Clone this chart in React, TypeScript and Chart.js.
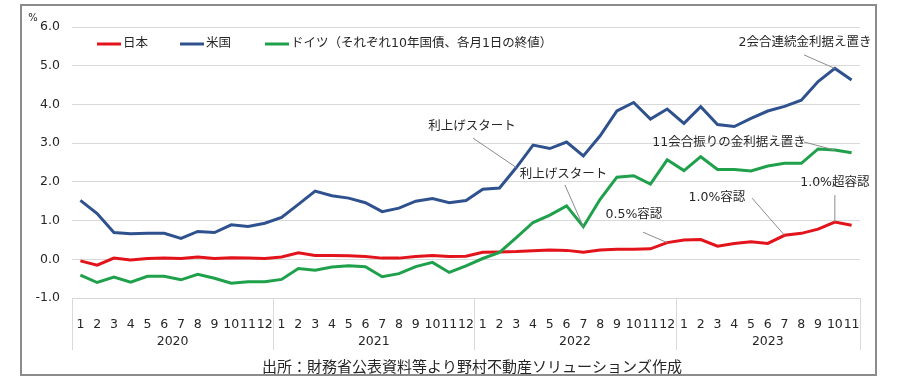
import React, { useEffect, useRef } from "react";
import { Chart, registerables } from "chart.js";

Chart.register(...registerables);

// ---- data ----
const years = ["2020", "2021", "2022", "2023"];
const monthLabels = [
  "1", "2", "3", "4", "5", "6", "7", "8", "9", "10", "11", "12",
  "1", "2", "3", "4", "5", "6", "7", "8", "9", "10", "11", "12",
  "1", "2", "3", "4", "5", "6", "7", "8", "9", "10", "11", "12",
  "1", "2", "3", "4", "5", "6", "7", "8", "9", "10", "11",
];
const japan = [
  -0.04, -0.15, 0.03, -0.02, 0.02, 0.03, 0.02, 0.06, 0.02, 0.04, 0.03, 0.02,
  0.06, 0.17, 0.1, 0.1, 0.09, 0.07, 0.03, 0.03, 0.07, 0.1, 0.07, 0.08,
  0.18, 0.19, 0.2, 0.22, 0.24, 0.23, 0.18, 0.24, 0.26, 0.26, 0.27, 0.43,
  0.5, 0.51, 0.34, 0.41, 0.45, 0.41, 0.62, 0.67, 0.78, 0.96, 0.88,
];
const usa = [
  1.52, 1.18, 0.69, 0.66, 0.67, 0.67, 0.54, 0.72, 0.69, 0.89, 0.85, 0.93,
  1.08, 1.42, 1.76, 1.64, 1.58, 1.46, 1.23, 1.32, 1.5, 1.57, 1.46, 1.52,
  1.81, 1.84, 2.37, 2.95, 2.86, 3.03, 2.67, 3.19, 3.83, 4.05, 3.62, 3.88,
  3.51, 3.94, 3.48, 3.43, 3.64, 3.83, 3.95, 4.11, 4.59, 4.93, 4.63,
];
const germany = [
  -0.41, -0.6, -0.46, -0.59, -0.44, -0.44, -0.53, -0.39, -0.49, -0.62, -0.58, -0.58,
  -0.52, -0.24, -0.28, -0.2, -0.17, -0.19, -0.45, -0.37, -0.19, -0.08, -0.34, -0.17,
  0.02, 0.18, 0.56, 0.95, 1.14, 1.38, 0.84, 1.55, 2.12, 2.16, 1.94, 2.57,
  2.29, 2.65, 2.32, 2.32, 2.28, 2.41, 2.48, 2.48, 2.85, 2.82, 2.75,
];
const seriesNames = ["日本", "米国", "ドイツ（それぞれ10年国債、各月1日の終値）"];
const sourceText = "出所：財務省公表資料等より野村不動産ソリューションズ作成";

// callouts: text, the series / month index pointed at
const callouts = [
  { text: "2会合連続金利据え置き", series: 1, index: 45 },
  { text: "利上げスタート", series: 1, index: 26 },
  { text: "利上げスタート", series: 2, index: 30 },
  { text: "0.5%容認", series: 0, index: 35 },
  { text: "1.0%容認", series: 0, index: 42 },
  { text: "1.0%超容認", series: 0, index: 45 },
  { text: "11会合振りの金利据え置き", series: 2, index: 45 },
];
// label placement in axis units (category index, value) – kept apart from data
const calloutPlacement = [
  { tx: 43.22, ty: 5.59, lx: 43.16, ly: 5.28 },
  { tx: 23.36, ty: 3.42, lx: 23.42, ly: 3.13 },
  { tx: 28.82, ty: 2.18, lx: 28.9, ly: 1.92 },
  { tx: 33.02, ty: 1.14, lx: 33.55, ly: 0.7 },
  { tx: 37.97, ty: 1.58, lx: 40.06, ly: 1.58 },
  { tx: 45.0, ty: 1.97, lx: 45.0, ly: 1.66 },
  { tx: 38.69, ty: 3.0, lx: 43.16, ly: 3.03 },
];

const COLORS = ["#e3131b", "#2f528f", "#1fa04b"];
const FONT = '"DejaVu Sans", "Noto Sans CJK JP", sans-serif';
const JFONT = '"Noto Sans CJK JP", "DejaVu Sans", sans-serif';
const TEXT = "#262626";

const overlay = {
  id: "overlay",
  afterDraw(chart: any) {
    const ctx = chart.ctx as CanvasRenderingContext2D;
    const x = chart.scales.x;
    const y = chart.scales.y;
    const area = chart.chartArea;
    const seriesData = [japan, usa, germany];
    ctx.save();

    // year separators and labels
    ctx.strokeStyle = "#d9d9d9";
    ctx.lineWidth = 1;
    for (let k = 0; k <= years.length; k++) {
      const idx = Math.min(k * 12, monthLabels.length) - 0.5;
      const px = Math.round(x.getPixelForValue(idx)) + 0.5;
      ctx.beginPath();
      ctx.moveTo(px, area.bottom);
      ctx.lineTo(px, 350);
      ctx.stroke();
    }
    ctx.fillStyle = TEXT;
    ctx.font = "12.5px " + FONT;
    ctx.textAlign = "center";
    ctx.textBaseline = "middle";
    years.forEach((yr, k) => {
      const a = x.getPixelForValue(k * 12 - 0.5);
      const b = x.getPixelForValue(Math.min((k + 1) * 12, monthLabels.length) - 0.5);
      ctx.fillText(yr, (a + b) / 2, 342);
    });

    // % unit
    ctx.font = "10px " + FONT;
    ctx.fillText("%", 33, 18);

    // legend
    const legendX = [97, 180, 265];
    ctx.font = "12.5px " + FONT;
    ctx.textAlign = "left";
    seriesNames.forEach((n, i) => {
      ctx.strokeStyle = COLORS[i];
      ctx.lineWidth = 3;
      ctx.beginPath();
      ctx.moveTo(legendX[i], 44);
      ctx.lineTo(legendX[i] + 24, 44);
      ctx.stroke();
      ctx.fillStyle = TEXT;
      ctx.fillText(n, legendX[i] + 26, 44);
    });

    // callouts
    ctx.font = "12.5px " + FONT;
    ctx.textAlign = "center";
    callouts.forEach((c, i) => {
      const p = calloutPlacement[i];
      const ex = x.getPixelForValue(c.index);
      const ey = y.getPixelForValue(seriesData[c.series][c.index]);
      ctx.strokeStyle = "#8c8c8c";
      ctx.lineWidth = 1;
      ctx.beginPath();
      ctx.moveTo(x.getPixelForValue(p.lx), y.getPixelForValue(p.ly));
      ctx.lineTo(ex, ey);
      ctx.stroke();
      ctx.fillStyle = TEXT;
      ctx.fillText(c.text, x.getPixelForValue(p.tx), y.getPixelForValue(p.ty));
    });

    // source
    ctx.font = "15px " + JFONT;
    ctx.fillText(sourceText, 472, 366);

    // frame
    ctx.strokeStyle = "#8c8c8c";
    ctx.lineWidth = 2;
    ctx.strokeRect(21, 5, 855, 370);
    ctx.restore();
  },
};

export default function App() {
  const ref = useRef<HTMLCanvasElement>(null);
  useEffect(() => {
    document.body.style.margin = "0";
    const chart = new Chart(ref.current as HTMLCanvasElement, {
      type: "line",
      data: {
        labels: monthLabels,
        datasets: [japan, usa, germany].map((d, i) => ({
          label: seriesNames[i],
          data: d,
          borderColor: COLORS[i],
          backgroundColor: COLORS[i],
          borderWidth: 3,
          pointRadius: 0,
          tension: 0,
          order: 3 - i,
        })),
      },
      options: {
        animation: false,
        responsive: false,
        devicePixelRatio: 1,
        layout: { padding: { left: 0, right: 40, top: 27, bottom: 0 } },
        plugins: { legend: { display: false }, tooltip: { enabled: false } },
        scales: {
          x: {
            type: "category",
            offset: true,
            grid: { display: false },
            border: { display: false },
            ticks: {
              autoSkip: false,
              maxRotation: 0,
              minRotation: 0,
              padding: 11,
              color: TEXT,
              font: { family: FONT, size: 12.5 },
            },
            afterFit: (s: any) => {
              s.height = 86;
            },
          },
          y: {
            min: -1,
            max: 6,
            ticks: {
              stepSize: 1,
              padding: 12,
              color: TEXT,
              font: { family: FONT, size: 12.5 },
              callback: (v: any) => Number(v).toFixed(1),
            },
            grid: { color: "#d9d9d9", drawTicks: false, lineWidth: 1 },
            border: { display: false },
            afterFit: (s: any) => {
              s.width = 72;
            },
          },
        },
      },
      plugins: [overlay],
    });
    return () => chart.destroy();
  }, []);
  return (
    <div style={{ width: 900, height: 384 }}>
      <canvas ref={ref} width={900} height={384} style={{ display: "block" }} />
    </div>
  );
}
